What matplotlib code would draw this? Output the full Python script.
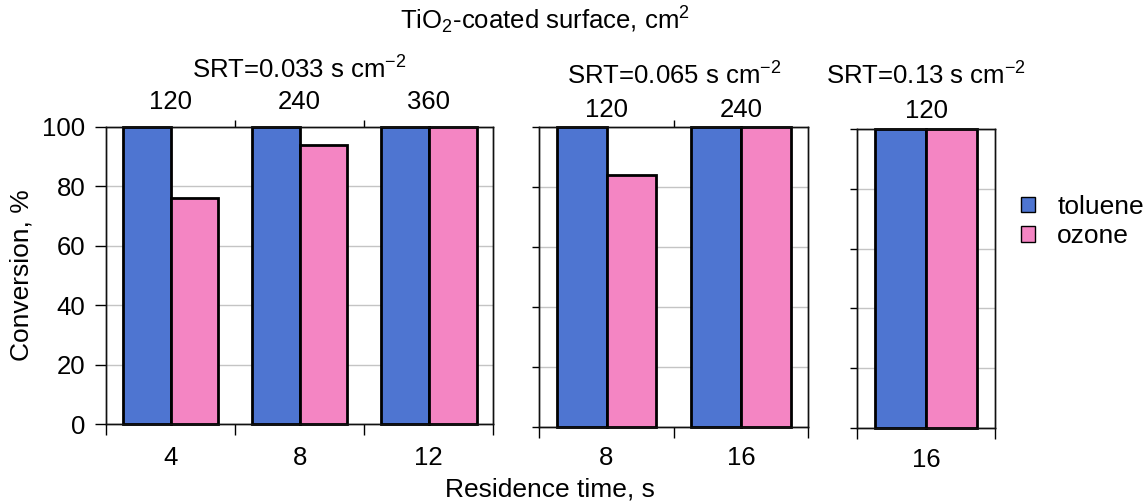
import numpy as np
import matplotlib
matplotlib.use("Agg")
import matplotlib.pyplot as plt
from matplotlib.patches import Patch

plt.rcParams['font.family'] = ['Liberation Sans', 'DejaVu Sans']
plt.rcParams['mathtext.fontset'] = 'custom'
plt.rcParams['mathtext.rm'] = 'Liberation Sans'
plt.rcParams['mathtext.it'] = 'Liberation Sans:italic'
plt.rcParams['mathtext.bf'] = 'Liberation Sans:bold'

# ---------------- data ----------------
series_names = ["toluene", "ozone"]
title_text = "TiO$_2$-coated surface, cm$^2$"
xlabel_text = "Residence time, s"
ylabel_text = "Conversion, %"

srt_labels = ["SRT=0.033 s cm$^{-2}$", "SRT=0.065 s cm$^{-2}$", "SRT=0.13 s cm$^{-2}$"]

residence_p1 = ["4", "8", "12"]
surface_p1 = ["120", "240", "360"]
toluene_p1 = [100, 100, 100]
ozone_p1 = [76, 94, 100]

residence_p2 = ["8", "16"]
surface_p2 = ["120", "240"]
toluene_p2 = [100, 100]
ozone_p2 = [84, 100]

residence_p3 = ["16"]
surface_p3 = ["120"]
toluene_p3 = [100]
ozone_p3 = [100]

yticks = [0, 20, 40, 60, 80, 100]

# ---------------- style ----------------
blue = "#4E75D1"
pink = "#F485C3"
W, H = 1148, 504
fig = plt.figure(figsize=(W / 100, H / 100), dpi=100)

panels = [
    dict(rect=(0.09233, 0.15873, 0.33737, 0.58988), res=residence_p1, surf=surface_p1,
         tol=toluene_p1, oz=ozone_p1, srt=srt_labels[0], toppad=9.2, botpad=15.5,
         ylen=8, srt_y=1 - 79 / H),
    dict(rect=(0.46977, 0.15337, 0.23432, 0.59405), res=residence_p2, surf=surface_p2,
         tol=toluene_p2, oz=ozone_p2, srt=srt_labels[1], toppad=4.0, botpad=14.0,
         ylen=5, srt_y=1 - 85 / H),
    dict(rect=(0.74695, 0.15139, 0.11951, 0.59167), res=residence_p3, surf=surface_p3,
         tol=toluene_p3, oz=ozone_p3, srt=srt_labels[2], toppad=4.9, botpad=14.4,
         ylen=5, srt_y=1 - 85 / H),
]

bw = 0.37
tick_fs = 18.5
for i, p in enumerate(panels):
    ax = fig.add_axes(p["rect"])
    n = len(p["res"])
    x = np.arange(n)
    ax.bar(x - bw / 2, p["tol"], bw, color=blue, edgecolor="black", linewidth=2.0,
           zorder=3, clip_on=False)
    ax.bar(x + bw / 2, p["oz"], bw, color=pink, edgecolor="black", linewidth=2.0,
           zorder=3, clip_on=False)
    ax.set_xlim(-0.5, n - 0.5)
    ax.set_ylim(0, 100)
    ax.set_yticks(yticks)
    ax.yaxis.grid(True, color="#c4c4c4", linewidth=1.0)
    ax.set_axisbelow(True)
    for s in ax.spines.values():
        s.set_linewidth(1.0)
        s.set_color("#111111")

    bounds = np.arange(n + 1) - 0.5
    ax.set_xticks(bounds)
    ax.set_xticklabels([])
    ax.set_xticks(x, minor=True)
    ax.set_xticklabels(p["res"], minor=True)
    ax.tick_params(axis="x", which="major", length=8, width=1.0, direction="out")
    ax.tick_params(axis="x", which="minor", length=0, labelsize=tick_fs, pad=p["botpad"])
    if i == 0:
        ax.tick_params(axis="y", length=p["ylen"], width=1.0, labelsize=tick_fs, pad=7)
    else:
        ax.tick_params(axis="y", length=p["ylen"], width=1.0, labelleft=False)

    ax2 = ax.twiny()
    ax2.set_xlim(ax.get_xlim())
    ax2.set_xticks(bounds[1:-1])
    ax2.set_xticklabels([])
    ax2.set_xticks(x, minor=True)
    ax2.set_xticklabels(p["surf"], minor=True)
    ax2.tick_params(axis="x", which="major", length=5, width=1.0, direction="out")
    ax2.tick_params(axis="x", which="minor", length=0, labelsize=tick_fs, pad=p["toppad"])
    for s in ax2.spines.values():
        s.set_linewidth(1.0)
        s.set_color("#111111")

    cx = p["rect"][0] + p["rect"][2] / 2
    fig.text(cx, p["srt_y"], p["srt"], ha="center", va="baseline", fontsize=18.5)

fig.text(545 / W, 1 - 29.5 / H, title_text, ha="center", va="baseline", fontsize=18.5)
fig.text(550 / W, 1 - 497 / H, xlabel_text, ha="center", va="baseline", fontsize=19)
fig.text(22 / W, 1 - 275 / H, ylabel_text, ha="center", va="center", rotation=90, fontsize=19)

handles = [Patch(facecolor=blue, edgecolor="black", linewidth=1.0),
           Patch(facecolor=pink, edgecolor="black", linewidth=1.0)]
fig.legend(handles, series_names, loc="center left", bbox_to_anchor=(1021 / W, 1 - 221.7 / H),
           frameon=False, fontsize=19, handlelength=0.52, handleheight=0.52,
           handletextpad=0.85, labelspacing=0.2, borderpad=0, borderaxespad=0)

fig.savefig("out.png", dpi=100)
